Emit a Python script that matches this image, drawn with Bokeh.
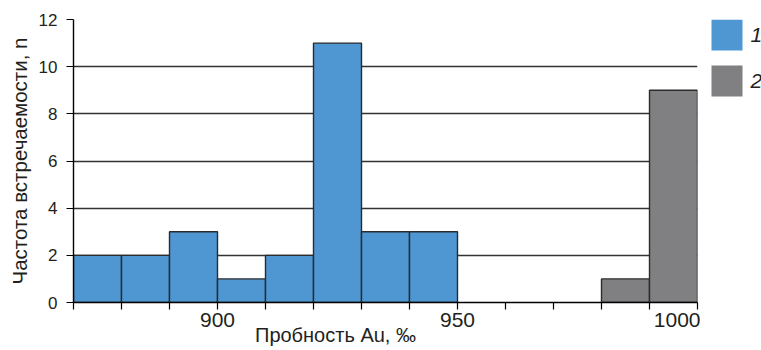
from bokeh.plotting import figure
from bokeh.layouts import row
from bokeh.models import Range1d, FixedTicker, ColumnDataSource
from bokeh.core.properties import value
from bokeh.embed import file_html
from bokeh.resources import INLINE

# Data
blue_left = [870, 880, 890, 900, 910, 920, 930, 940]
blue_counts = [2, 2, 3, 1, 2, 11, 3, 3]
gray_left = [980, 990]
gray_counts = [1, 9]
bin_width = 10
x_major = [900, 950, 1000]
x_minor = [870, 880, 890, 910, 920, 930, 940, 960, 970, 980, 990]
y_ticks = [0, 2, 4, 6, 8, 10, 12]
legend_labels = ["1", "2"]
x_title = "Пробность Au, ‰"
y_title = "Частота встречаемости, n"

BLUE = "#4f97d2"
GRAY = "#808083"
EDGE = "#2b2b2b"
TXT = "#231f20"
FONT = "Liberation Sans"
H = 350
TOP, BOTTOM = 19, 48

p = figure(width=700, height=H, output_backend="svg", toolbar_location=None,
           x_range=Range1d(870, 1000), y_range=Range1d(0, 12),
           min_border_left=73, min_border_right=3, min_border_top=TOP, min_border_bottom=BOTTOM)
p.outline_line_color = None
p.background_fill_color = "white"
p.border_fill_color = "white"

src_b = ColumnDataSource(dict(left=blue_left, right=[v + bin_width for v in blue_left], top=blue_counts, bottom=[0] * len(blue_left)))
src_g = ColumnDataSource(dict(left=gray_left, right=[v + bin_width for v in gray_left], top=gray_counts, bottom=[0] * len(gray_left)))
p.quad(left="left", right="right", top="top", bottom="bottom", source=src_b,
       fill_color=BLUE, line_color=EDGE, line_width=1.4)
p.quad(left="left", right="right", top="top", bottom="bottom", source=src_g,
       fill_color=GRAY, line_color=EDGE, line_width=1.4)

# grid
p.xgrid.grid_line_color = None
p.ygrid.ticker = FixedTicker(ticks=y_ticks)
p.ygrid.grid_line_color = "#333333"
p.ygrid.grid_line_width = 1.3

# x axis
xa = p.xaxis[0]
xa.ticker = FixedTicker(ticks=x_major, minor_ticks=x_minor)
xa.axis_line_color = "black"
xa.axis_line_width = 1.4
xa.major_tick_line_color = "black"
xa.minor_tick_line_color = "black"
xa.major_tick_line_width = 1.2
xa.minor_tick_line_width = 1.2
xa.major_tick_in = 0
xa.major_tick_out = 7
xa.minor_tick_in = 0
xa.minor_tick_out = 7
xa.major_label_standoff = 3
xa.major_label_text_font = FONT
xa.major_label_text_font_size = "21px"
xa.major_label_text_color = TXT
# trailing no-break spaces shift the centred title to the left, as in the reference
xa.axis_label = x_title + "\u00a0" * 18
xa.axis_label_standoff = -6
xa.axis_label_text_font = FONT
xa.axis_label_text_font_size = "20px"
xa.axis_label_text_font_style = "normal"
xa.axis_label_text_color = TXT

# y axis
ya = p.yaxis[0]
ya.ticker = FixedTicker(ticks=y_ticks)
ya.axis_line_color = "black"
ya.axis_line_width = 1.4
ya.major_tick_line_color = "black"
ya.major_tick_line_width = 1.2
ya.major_tick_in = 0
ya.major_tick_out = 7
ya.minor_tick_line_color = None
ya.major_label_standoff = 9
ya.major_label_text_font = FONT
ya.major_label_text_font_size = "17px"
ya.major_label_text_color = TXT
ya.axis_label = y_title
ya.axis_label_standoff = 5
ya.axis_label_text_font = FONT
ya.axis_label_text_font_size = "20.5px"
ya.axis_label_text_font_style = "normal"
ya.axis_label_text_color = TXT

# legend panel (pixel-space figure to the right of the plot, frame aligned with main frame)
LW = 61
q = figure(width=LW, height=H, output_backend="svg", toolbar_location=None,
           x_range=Range1d(0, LW), y_range=Range1d(H - BOTTOM, TOP),
           min_border_left=0, min_border_right=0, min_border_top=TOP, min_border_bottom=BOTTOM)
q.axis.visible = False
q.grid.grid_line_color = None
q.outline_line_color = None
q.border_fill_color = "white"
sw = 31          # swatch size
gap = 15         # gap between swatches
top0 = 19        # top of first swatch
sw_x = 11 + sw / 2
ys = [top0 + sw / 2 + i * (sw + gap) for i in range(len(legend_labels))]
q.rect(x=[sw_x] * len(ys), y=ys, width=sw, height=sw, fill_color=[BLUE, GRAY], line_color=None)
q.text(x=[sw_x + sw / 2 + 8] * len(ys), y=ys, text=legend_labels, text_baseline="middle",
       text_align="left", text_font=value(FONT), text_font_style="italic",
       text_font_size="21px", text_color=TXT)

layout = row(p, q)
open("out.html", "w").write(file_html(layout, INLINE))
